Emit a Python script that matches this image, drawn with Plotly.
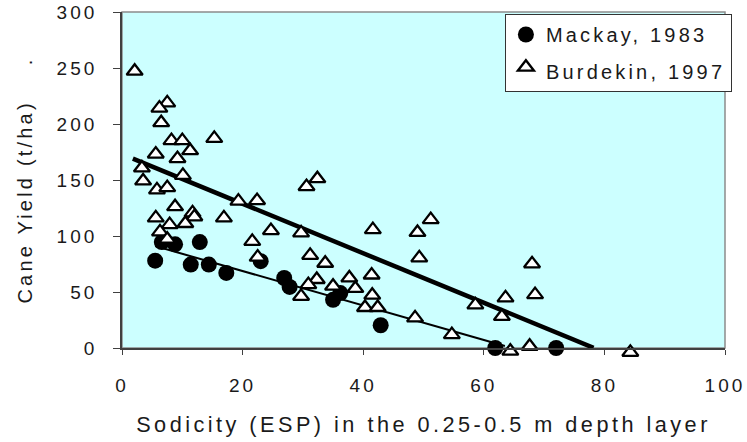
import plotly.graph_objects as go

# ---- data ----
mackay_x = [5.5, 6.6, 8.8, 12.9, 11.4, 14.4, 17.3, 23.0, 26.9, 27.8, 35.0, 36.2, 42.9, 61.9, 72.0]
mackay_y = [78, 94.6, 92.6, 94.6, 74.5, 74.5, 67, 77.5, 62.5, 54.5, 43, 49, 20.3, 0, 0]

burdekin_x = [2.1, 7.5, 6.2, 6.5, 8.2, 10.0, 15.3, 11.3, 5.6, 9.2, 10.1, 3.3, 3.5, 5.8, 7.5,
              8.8, 5.6, 11.7, 12.0, 10.5, 7.9, 6.3, 7.5, 16.9, 19.3, 22.4, 24.7, 21.6, 22.5,
              29.7, 30.6, 32.4, 31.2, 33.7, 32.3, 30.9, 35.0, 29.7, 37.7, 38.7, 41.4, 41.5,
              40.3, 42.4, 41.6, 49.0, 51.2, 49.3, 48.6, 54.7, 58.6, 63.6, 68.5, 68.0, 63.0,
              64.4, 67.6, 84.3]
burdekin_y = [251, 222.7, 218, 205, 189, 189, 191, 180, 177, 173, 158, 164.6, 153, 145, 147,
              130, 120, 124.5, 121, 115, 114, 107.5, 101, 120, 135, 135.5, 108.7, 99, 85,
              106.6, 148, 155, 86.6, 79.5, 65, 60.4, 59, 50, 66.4, 57, 69, 51,
              40, 40, 109.5, 107, 118.5, 84.3, 30.7, 15.8, 42.3, 48.6, 51.5, 79, 32,
              1, 5.4, 0]

# trend lines (intercept, slope, x-start, x-end)
mackay_fit = dict(a=99.5, b=-1.54, x0=5.5, x1=63.5)
burdekin_fit = dict(a=173.0, b=-2.21, x0=1.8, x1=78.2)

x_ticks = [0, 20, 40, 60, 80, 100]
y_ticks = [0, 50, 100, 150, 200, 250, 300]

FONT = "Liberation Sans"
FONT2 = "Liberation Sans, Arial"

fig = go.Figure()


def fit_line(f):
    xs = [f["x0"], f["x1"]]
    return xs, [f["a"] + f["b"] * x for x in xs]


bx, by = fit_line(burdekin_fit)
mx, my = fit_line(mackay_fit)

fig.add_trace(go.Scatter(x=bx, y=by, mode="lines", line=dict(color="black", width=4.5),
                         showlegend=False, hoverinfo="skip"))
fig.add_trace(go.Scatter(x=mx, y=my, mode="lines", line=dict(color="black", width=2),
                         showlegend=False, hoverinfo="skip"))

fig.add_trace(go.Scatter(
    x=mackay_x, y=mackay_y, mode="markers", name="Mackay, 1983", legendgroup="a",
    cliponaxis=False,
    marker=dict(symbol="circle", size=16, color="black", line=dict(color="black", width=0)),
))
fig.add_trace(go.Scatter(
    x=burdekin_x, y=burdekin_y, mode="markers", name="Burdekin, 1997", legendgroup="b",
    cliponaxis=False,
    marker=dict(symbol="triangle-up", size=14, color="white", standoff=4.3,
                line=dict(color="black", width=2.3)),
))

fig.add_shape(type="rect", xref="paper", yref="paper", x0=0, y0=0, x1=1, y1=1,
              line=dict(color="#8c8c8c", width=1.5), layer="below")

fig.update_layout(
    width=747, height=442,
    margin=dict(l=122, r=22, t=12, b=94),
    paper_bgcolor="white",
    plot_bgcolor="#CCFFFF",
    font=dict(family=FONT, size=19, color="#1a1a1a"),
    showlegend=True,
    legend=dict(
        x=0.635, y=0.994, xanchor="left", yanchor="top",
        bgcolor="white", bordercolor="#333333", borderwidth=1,
        font=dict(size=20, color="#1a1a1a"),
        tracegroupgap=8, traceorder="grouped",
    ),
    xaxis=dict(
        range=[0, 100], tickvals=x_ticks, ticktext=[str(v) for v in x_ticks],
        showgrid=False, zeroline=False, automargin=False,
        showline=True, linecolor="#404040", linewidth=1.5,
        ticks="outside", ticklen=5, tickcolor="#404040", tickwidth=1,
        ticklabelstandoff=14,
        tickfont=dict(size=19),
        title=dict(text="Sodicity (ESP) in the 0.25-0.5 m depth layer",
                   font=dict(size=21.7), standoff=22),
    ),
    yaxis=dict(
        range=[0, 300], tickvals=y_ticks, ticktext=[str(v) for v in y_ticks],
        showgrid=False, zeroline=False, automargin=False,
        showline=True, linecolor="#404040", linewidth=1.5,
        ticks="outside", ticklen=7, tickcolor="#404040", tickwidth=1,
        tickfont=dict(size=19),
        title=dict(text="Cane Yield (t/ha)    .", font=dict(size=20), standoff=31),
    ),
)

# Wide letter spacing as in the original, then redraw so text is re-measured;
# the y tick labels sit a little further from the axis than Plotly's default.
post = """
var gd = document.getElementById('{plot_id}');
var st = document.createElement('style');
st.textContent = 'svg text { letter-spacing: 0.16em; }';
document.head.appendChild(st);
function shiftY() {
  var labs = gd.querySelectorAll('g.ytick > text, .ytick text');
  for (var i = 0; i < labs.length; i++) { labs[i].setAttribute('dx', '-12'); }
}
var p = Plotly.relayout(gd, {'font.family': '%s'});
shiftY();
if (p && p.then) { p.then(shiftY); }
gd.on('plotly_afterplot', shiftY);
setTimeout(shiftY, 0);
""" % FONT2

fig.write_html("out.html", post_script=post)
